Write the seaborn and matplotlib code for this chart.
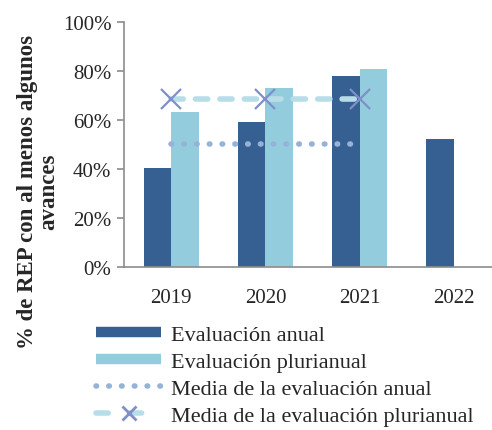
import matplotlib
matplotlib.use("Agg")
import matplotlib.pyplot as plt
import seaborn as sns
import pandas as pd
from matplotlib.lines import Line2D
from matplotlib.ticker import PercentFormatter

# Data
years = ["2019", "2020", "2021", "2022"]
anual = [40.5, 59.2, 78.0, 52.3]
plurianual = [63.3, 73.0, 80.6, None]
mean_years = ["2019", "2020", "2021"]
mean_anual = [50.0, 50.0, 50.0]
mean_plurianual = [68.3, 68.3, 68.3]

dark_blue = "#376092"
light_blue = "#93CDDD"
dot_color = "#95B3D7"
dash_color = "#B7DEE8"
x_color = "#7F8FC9"

df = pd.DataFrame({
    "year": years * 2,
    "value": anual + plurianual,
    "serie": ["Evaluación anual"] * 4 + ["Evaluación plurianual"] * 4,
})

sns.set_style("white")
plt.rcParams["font.family"] = ["Liberation Serif", "DejaVu Serif"]

fig = plt.figure(figsize=(4.92, 4.31), dpi=100)
ax = fig.add_axes([124 / 492, 1 - 268 / 431, (501 - 124) / 492, (268 - 22.7) / 431])

sns.barplot(data=df, x="year", y="value", hue="serie", order=years,
            palette=[dark_blue, light_blue], width=0.585, ax=ax,
            legend=False, saturation=1, edgecolor="none")

xpos = [years.index(y) for y in mean_years]
ax.plot(xpos, mean_anual, linestyle=(0, (0.1, 2.2)), color=dot_color,
        linewidth=4, dash_capstyle="round", zorder=3)
ax.plot(xpos, mean_plurianual, linestyle=(0, (2.2, 2.2)), color=dash_color,
        linewidth=4, dash_capstyle="round", zorder=3)
ax.plot(xpos, mean_plurianual, linestyle="none", marker="x", markersize=14,
        markeredgewidth=1.6, color=x_color, zorder=4)

ax.set_xlim(-0.5, 3.5)
ax.set_ylim(0, 100)
ax.set_yticks(range(0, 101, 20))
ax.yaxis.set_major_formatter(PercentFormatter(decimals=0))
ax.set_xticks(range(4))
ax.set_xticks([0.5, 1.5, 2.5], minor=True)
ax.tick_params(axis="x", which="major", length=0, pad=15, labelsize=15)
ax.tick_params(axis="x", which="minor", length=5, width=1.2, color="#8c8c8c", direction="out")
ax.tick_params(axis="y", length=5, width=1.2, color="#8c8c8c", direction="out",
               left=True, labelsize=15, pad=4)
ax.set_xlabel("")
ax.set_ylabel("")
for side in ["top", "right"]:
    ax.spines[side].set_visible(False)
for side in ["left", "bottom"]:
    ax.spines[side].set_color("#8c8c8c")
    ax.spines[side].set_linewidth(1.2)

fig.text(38 / 492, 1 - 192 / 431, "% de REP con al menos algunos\navances",
         rotation=90, ha="center", va="center", fontsize=16.5, fontweight="bold",
         linespacing=0.98)

handles = [
    Line2D([0], [0], color=dark_blue, linewidth=7.5, solid_capstyle="butt"),
    Line2D([0], [0], color=light_blue, linewidth=7.5, solid_capstyle="butt"),
    Line2D([0], [0], color=dot_color, linewidth=4, linestyle=(0, (0.1, 2.2)),
           dash_capstyle="round"),
    Line2D([0], [0], color=dash_color, linewidth=4, linestyle=(0, (2.2, 3.8)),
           dash_capstyle="round", marker="x", markersize=10,
           markeredgecolor=x_color, markeredgewidth=2),
]
labels = ["Evaluación anual", "Evaluación plurianual",
          "Media de la evaluación anual", "Media de la evaluación plurianual"]
fig.legend(handles, labels, loc="lower left", bbox_to_anchor=(83 / 492, -0.022),
           frameon=False, fontsize=16, handlelength=2.9, handletextpad=0.45,
           labelspacing=0.29, borderaxespad=0.2)

fig.savefig("out.png", dpi=100)
